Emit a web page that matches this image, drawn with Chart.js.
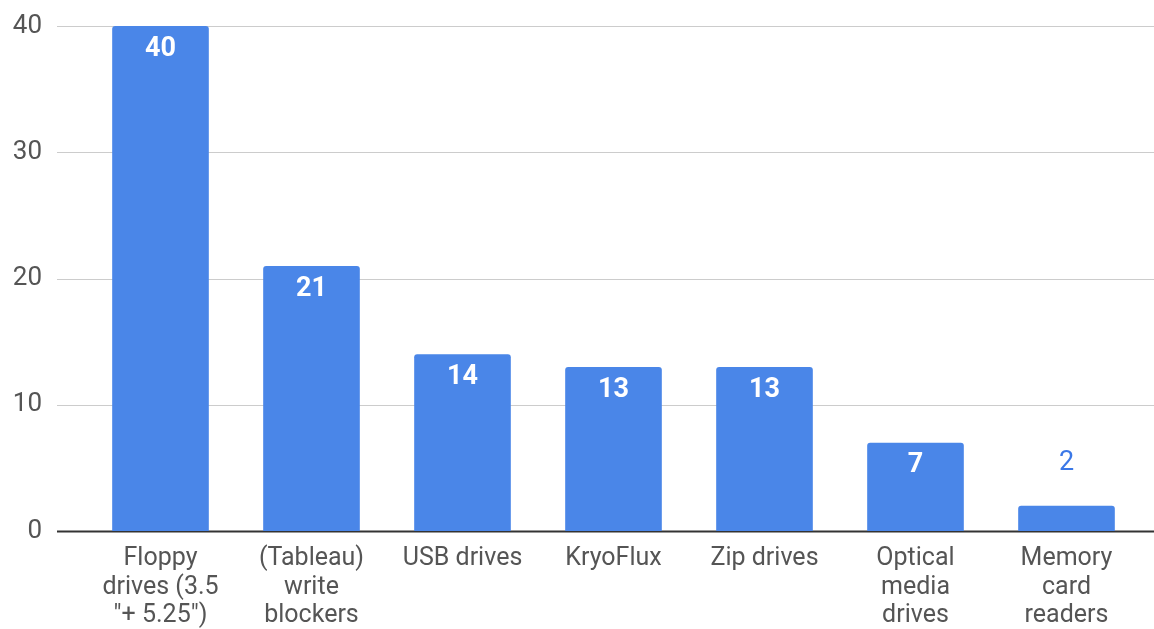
<!DOCTYPE html>
<html>
<head>
<meta charset="utf-8">
<script src="https://cdn.jsdelivr.net/npm/chart.js@4/dist/chart.umd.min.js"></script>
<style>
  html, body { margin: 0; padding: 0; background: #fff; overflow: hidden; }
  #wrap { width: 1154px; height: 629px; position: relative; }
</style>
</head>
<body>
<div id="wrap"><canvas id="chart"></canvas></div>
<script>
// data
const categories = [
  ['Floppy', 'drives (3.5', '"+ 5.25")'],
  ['(Tableau)', 'write', 'blockers'],
  ['USB drives'],
  ['KryoFlux'],
  ['Zip drives'],
  ['Optical', 'media', 'drives'],
  ['Memory', 'card', 'readers']
];
const counts = [40, 21, 14, 13, 13, 7, 2];
const yTicks = [0, 10, 20, 30, 40];

const barBlue = '#4a86e8';

// grid lines in the original run wider than the bars area
const wideGrid = {
  id: 'wideGrid',
  beforeDatasetsDraw(chart) {
    const ctx = chart.ctx;
    const y = chart.scales.y;
    ctx.save();
    yTicks.forEach(v => {
      const py = Math.round(y.getPixelForValue(v)) + 0.5;
      ctx.beginPath();
      ctx.strokeStyle = v === 0 ? '#333333' : '#cccccc';
      ctx.lineWidth = v === 0 ? 2 : 1.2;
      ctx.moveTo(57, py);
      ctx.lineTo(chart.width, py);
      ctx.stroke();
    });
    ctx.restore();
  }
};

// value labels: inside the top of the bar, or above it when the bar is short
const valueLabels = {
  id: 'valueLabels',
  afterDatasetsDraw(chart) {
    const ctx = chart.ctx;
    const meta = chart.getDatasetMeta(0);
    ctx.save();
    ctx.textAlign = 'center';
    ctx.textBaseline = 'middle';
    meta.data.forEach((bar, i) => {
      const v = counts[i];
      const h = bar.base - bar.y;
      if (h > 40) {
        ctx.font = 'bold 27px Roboto';
        ctx.fillStyle = '#ffffff';
        ctx.fillText(v, bar.x, bar.y + 23);
      } else {
        ctx.font = '27px Roboto';
        ctx.fillStyle = '#3b78e7';
        ctx.fillText(v, bar.x, bar.y - 43);
      }
    });
    ctx.restore();
  }
};

new Chart(document.getElementById('chart'), {
  type: 'bar',
  data: {
    labels: categories,
    datasets: [{
      data: counts,
      backgroundColor: barBlue,
      borderRadius: { topLeft: 3, topRight: 3 },
      borderSkipped: 'bottom',
      barPercentage: 0.64,
      categoryPercentage: 1.0
    }]
  },
  options: {
    responsive: true,
    maintainAspectRatio: false,
    animation: false,
    layout: { padding: { top: 0, right: 12, left: 0, bottom: 0 } },
    plugins: {
      legend: { display: false },
      tooltip: { enabled: false }
    },
    scales: {
      x: {
        grid: { display: false, drawTicks: false },
        border: { display: false },
        ticks: {
          color: '#555555',
          font: { family: 'Roboto', size: 25, lineHeight: 1.13 },
          padding: 14,
          maxRotation: 0,
          autoSkip: false
        },
        afterFit(scale) { scale.height = 98; }
      },
      y: {
        min: 0,
        max: 40,
        grid: { display: false, drawTicks: false },
        border: { display: false },
        afterBuildTicks(scale) { scale.ticks = yTicks.map(v => ({ value: v })); },
        ticks: {
          color: '#555555',
          font: { family: 'Roboto', size: 26 },
          padding: 43
        },
        afterFit(scale) { scale.width = 85; scale.paddingTop = 26; }
      }
    }
  },
  plugins: [wideGrid, valueLabels]
});
</script>
</body>
</html>
